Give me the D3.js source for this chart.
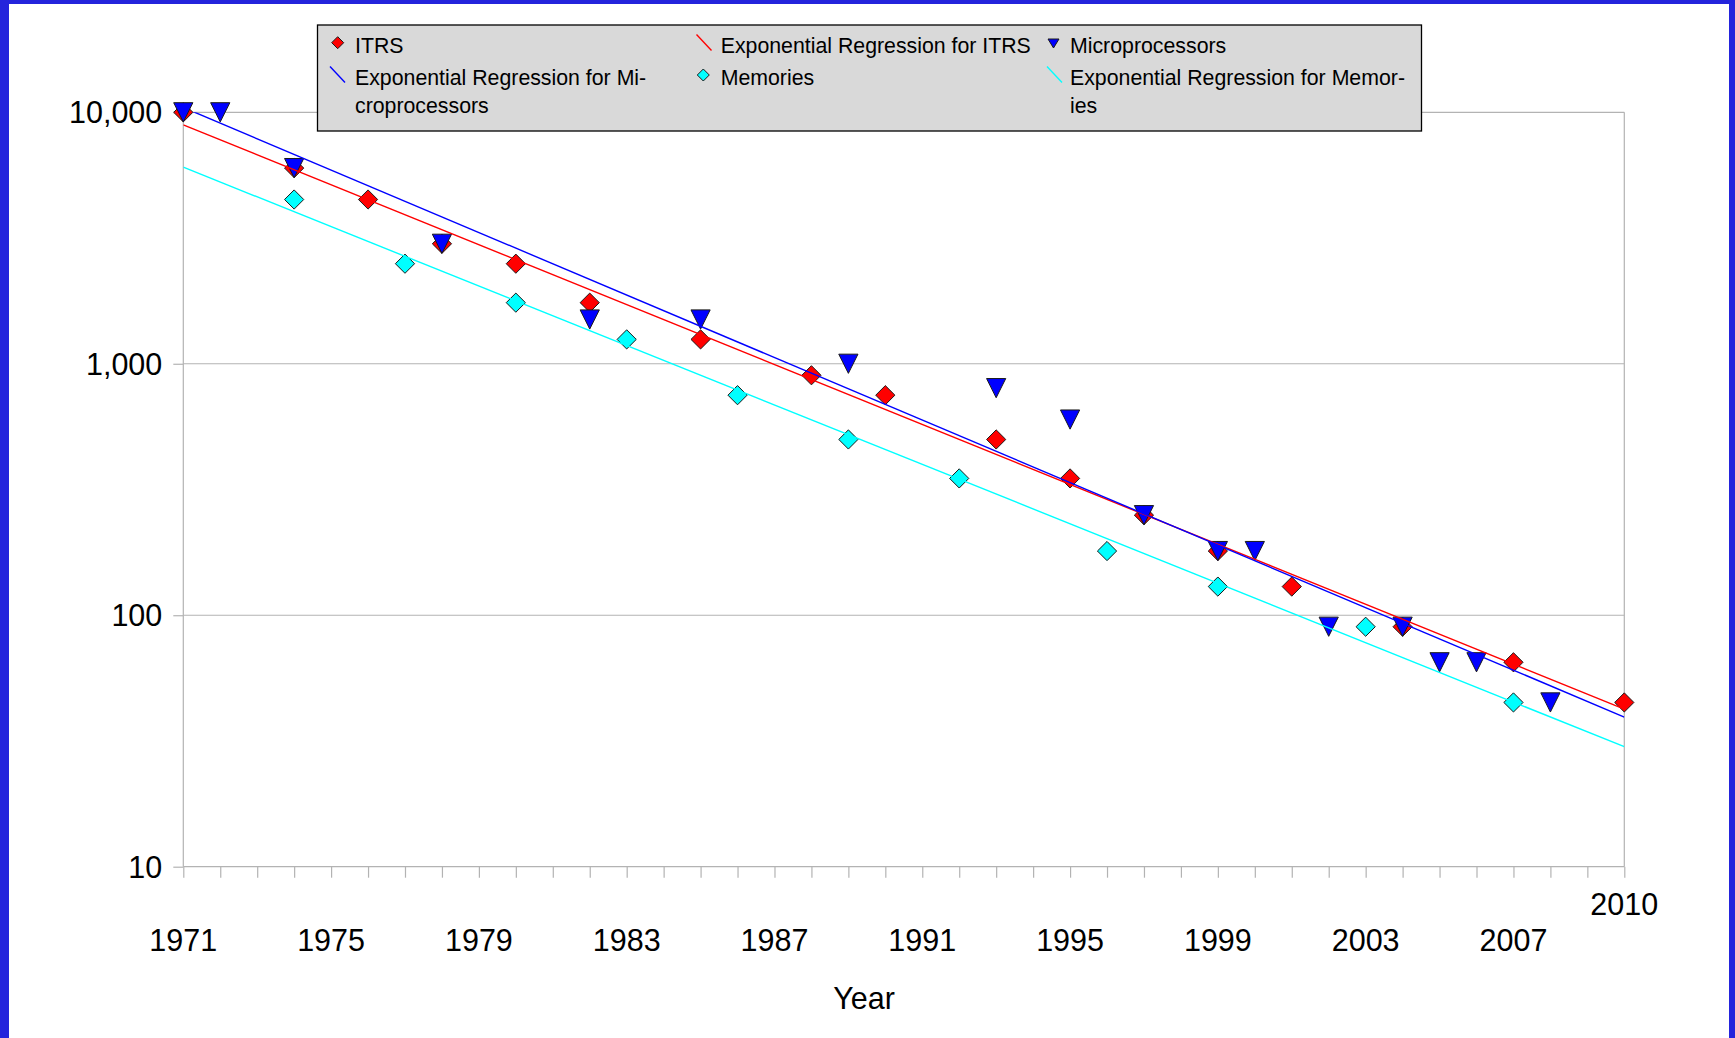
<!DOCTYPE html>
<html>
<head>
<meta charset="utf-8">
<script src="https://cdn.jsdelivr.net/npm/d3@7"></script>
<style>
body { margin: 0; background: #fff; }
svg { display: block; font-family: "Liberation Sans", Arial, sans-serif; }
</style>
</head>
<body>
<svg width="1735" height="1038"></svg>
<script>
// ITRS, microprocessors, memories (feature size values)
var itrsYears = [1971, 1974, 1976, 1978, 1980, 1982, 1985, 1988, 1990, 1993, 1995, 1997, 1999, 2001, 2004, 2007, 2010];
var itrsValues = [10000, 6000, 4500, 3000, 2500, 1750, 1250, 900, 750, 500, 350, 250, 180, 130, 90, 65, 45];

var microYears = [1971, 1972, 1974, 1978, 1982, 1985, 1989, 1993, 1995, 1997, 1999, 2000, 2002, 2004, 2005, 2006, 2008];
var microValues = [10000, 10000, 6000, 3000, 1500, 1500, 1000, 800, 600, 250, 180, 180, 90, 90, 65, 65, 45];

var memYears = [1974, 1977, 1980, 1983, 1986, 1989, 1992, 1996, 1999, 2003, 2007];
var memValues = [4500, 2500, 1750, 1250, 750, 500, 350, 180, 130, 90, 45];

var yTicks = [10, 100, 1000, 10000];
var xLabelYears = [1971, 1975, 1979, 1983, 1987, 1991, 1995, 1999, 2003, 2007, 2010];
var xDomain = [1971, 2010];

var legendNames = ["ITRS", "Exponential Regression for ITRS", "Microprocessors",
  "Exponential Regression for Mi-|croprocessors", "Memories", "Exponential Regression for Memor-|ies"];

PlotChart();

function PlotChart() {
var svg = d3.select("svg");
var width = +svg.attr("width"), height = +svg.attr("height");

// blue frame of the slide
svg.append("rect").attr("x", 0).attr("y", 0).attr("width", width).attr("height", height).attr("fill", "#2424dc");
svg.append("rect").attr("x", 9).attr("y", 4).attr("width", 1729 - 9).attr("height", height - 4).attr("fill", "#fff");

var pLeft = 183.3, pRight = 1624.3, pTop = 112.3, pBottom = 866.7;

var x = d3.scaleLinear().domain(xDomain).range([pLeft, pRight]);
var y = d3.scaleLog().domain([10, 10000]).range([pBottom, pTop]);

svg.append("clipPath").attr("id", "plotclip")
  .append("rect").attr("x", pLeft).attr("y", pTop).attr("width", pRight - pLeft).attr("height", pBottom - pTop);

// grid
svg.append("g").selectAll("line")
  .data(yTicks)
  .enter().append("line")
  .attr("x1", pLeft).attr("x2", pRight)
  .attr("y1", function(d) { return y(d); })
  .attr("y2", function(d) { return y(d); })
  .attr("stroke", "#b3b3b3").attr("stroke-width", 1.2);
svg.append("line").attr("x1", pLeft).attr("x2", pLeft).attr("y1", pTop).attr("y2", pBottom).attr("stroke", "#b3b3b3").attr("stroke-width", 1.2);
svg.append("line").attr("x1", pRight).attr("x2", pRight).attr("y1", pTop).attr("y2", pBottom).attr("stroke", "#b3b3b3").attr("stroke-width", 1.2);

// y axis
var yAxis = svg.append("g")
  .attr("transform", "translate(" + pLeft + ",0)")
  .call(d3.axisLeft(y).tickValues(yTicks).tickFormat(d3.format(",")).tickSize(10).tickPadding(11));
yAxis.select(".domain").remove();
yAxis.selectAll("line").attr("stroke", "#b3b3b3").attr("stroke-width", 1.2);
yAxis.selectAll("text").style("font-size", "30.5px").attr("fill", "#000").attr("dy", "0.35em");

// x axis, one tick per year
var allYears = d3.range(xDomain[0], xDomain[1] + 1);
var xAxis = svg.append("g")
  .attr("transform", "translate(0," + pBottom + ")")
  .call(d3.axisBottom(x).tickValues(allYears).tickFormat("").tickSize(11));
xAxis.select(".domain").remove();
xAxis.selectAll("line").attr("stroke", "#b3b3b3").attr("stroke-width", 1.2);

svg.append("g").selectAll("text")
  .data(xLabelYears)
  .enter().append("text")
  .attr("x", function(d) { return x(d); })
  .attr("y", function(d, i) { return i == xLabelYears.length - 1 ? 915 : 951; })
  .attr("text-anchor", "middle")
  .style("font-size", "30.5px")
  .text(function(d) { return d; });

svg.append("text").attr("x", 864).attr("y", 1009).attr("text-anchor", "middle")
  .style("font-size", "30.5px").text("Year");

// marker shapes
function diamond(cx, cy, r) {
  return "M" + cx + "," + (cy - r) + "L" + (cx + r) + "," + cy + "L" + cx + "," + (cy + r) + "L" + (cx - r) + "," + cy + "Z";
}
function triangle(cx, cy, r) {
  return "M" + (cx - r) + "," + (cy - r) + "L" + (cx + r) + "," + (cy - r) + "L" + cx + "," + (cy + r) + "Z";
}

function zip(xs, vs) {
  return xs.map(function(d, i) { return { year: d, value: vs[i] }; });
}

var series = [
  { data: zip(itrsYears, itrsValues), color: "#ff0000", shape: diamond },
  { data: zip(microYears, microValues), color: "#0000ff", shape: triangle },
  { data: zip(memYears, memValues), color: "#00ffff", shape: diamond }
];

series.forEach(function(s) {
  svg.append("g").selectAll("path")
    .data(s.data)
    .enter().append("path")
    .attr("d", function(d) { return s.shape(x(d.year), y(d.value), 9.6); })
    .attr("fill", s.color)
    .attr("stroke", "#1a1a1a")
    .attr("stroke-width", 1);
});

// exponential regression = linear fit of log10(value) over year
function expFit(data) {
  var mx = d3.mean(data, function(d) { return d.year; });
  var my = d3.mean(data, function(d) { return Math.log10(d.value); });
  var sxy = 0, sxx = 0;
  data.forEach(function(d) {
    sxy += (d.year - mx) * (Math.log10(d.value) - my);
    sxx += (d.year - mx) * (d.year - mx);
  });
  var b = sxy / sxx;
  return function(yr) { return Math.pow(10, my + b * (yr - mx)); };
}

var trendG = svg.append("g").attr("clip-path", "url(#plotclip)");
series.forEach(function(s) {
  var f = expFit(s.data);
  trendG.append("line")
    .attr("x1", x(xDomain[0])).attr("y1", y(f(xDomain[0])))
    .attr("x2", x(xDomain[1])).attr("y2", y(f(xDomain[1])))
    .attr("stroke", s.color)
    .attr("stroke-width", 1.4);
});

// legend
svg.append("rect").attr("x", 317.5).attr("y", 25).attr("width", 1421.5 - 317.5).attr("height", 106)
  .attr("fill", "#d9d9d9").attr("stroke", "#000").attr("stroke-width", 1.3);

var legendPos = [
  { sx: 337.7, sy: 42.7, tx: 355, ty: 53.3, kind: "diamond", color: "#ff0000" },
  { sx: 704, sy: 42.5, tx: 720.7, ty: 53.3, kind: "line", color: "#ff0000" },
  { sx: 1053.5, sy: 43.5, tx: 1070, ty: 53.3, kind: "triangle", color: "#0000ff" },
  { sx: 337.5, sy: 74.5, tx: 355, ty: 85, kind: "line", color: "#0000ff" },
  { sx: 703.3, sy: 75, tx: 720.7, ty: 85, kind: "diamond", color: "#00ffff" },
  { sx: 1054.5, sy: 74.5, tx: 1070, ty: 85, kind: "line", color: "#00ffff" }
];

legendPos.forEach(function(p, i) {
  if (p.kind == "line") {
    svg.append("line").attr("x1", p.sx - 7.5).attr("y1", p.sy - 8).attr("x2", p.sx + 7.5).attr("y2", p.sy + 8)
      .attr("stroke", p.color).attr("stroke-width", 1.3);
  } else if (p.kind == "diamond") {
    svg.append("path").attr("d", diamond(p.sx, p.sy, 6)).attr("fill", p.color).attr("stroke", "#1a1a1a").attr("stroke-width", 1);
  } else {
    svg.append("path").attr("d", "M" + (p.sx - 5.5) + "," + (p.sy - 4.5) + "L" + (p.sx + 5.5) + "," + (p.sy - 4.5) + "L" + p.sx + "," + (p.sy + 4.5) + "Z")
      .attr("fill", p.color).attr("stroke", "#1a1a1a").attr("stroke-width", 1);
  }
  var t = svg.append("text").attr("x", p.tx).attr("y", p.ty).style("font-size", "21.3px");
  legendNames[i].split("|").forEach(function(part, k) {
    t.append("tspan").attr("x", p.tx).attr("dy", k == 0 ? 0 : 27.5).text(part);
  });
});
}
</script>
</body>
</html>
